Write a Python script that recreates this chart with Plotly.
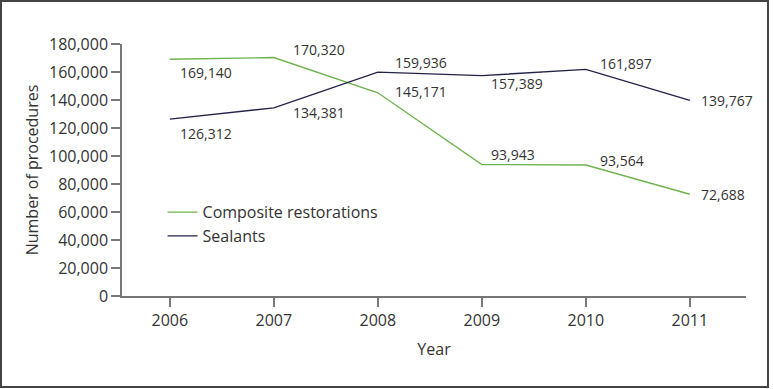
import plotly.graph_objects as go

years = [2006, 2007, 2008, 2009, 2010, 2011]
composite = [169140, 170320, 145171, 93943, 93564, 72688]
sealants = [126312, 134381, 159936, 157389, 161897, 139767]
y_ticks = [0, 20000, 40000, 60000, 80000, 100000, 120000, 140000, 160000, 180000]

GREEN = "#6fb34f"
NAVY = "#232249"
FONT = "Open Sans"

fig = go.Figure()
fig.add_trace(go.Scatter(x=years, y=composite, mode="lines", name="Composite restorations",
                         line=dict(color=GREEN, width=1.4)))
fig.add_trace(go.Scatter(x=years, y=sealants, mode="lines", name="Sealants",
                         line=dict(color=NAVY, width=1.4)))

# label offsets (xshift, yshift) in pixels
comp_off = [(8, -13), (17, 8), (15, 1), (7, 10), (12, 5), (9, 0)]
seal_off = [(8, -14), (17, -5), (15, 10), (7, -8), (12, 6), (9, 0)]

ann = []
for x, y, (dx, dy) in zip(years, composite, comp_off):
    ann.append(dict(x=x, y=y, xref="x", yref="y", text=f"{y:,}", showarrow=False,
                    xanchor="left", yanchor="middle", xshift=dx, yshift=dy,
                    font=dict(family=FONT, size=14, color="#333333")))
for x, y, (dx, dy) in zip(years, sealants, seal_off):
    ann.append(dict(x=x, y=y, xref="x", yref="y", text=f"{y:,}", showarrow=False,
                    xanchor="left", yanchor="middle", xshift=dx, yshift=dy,
                    font=dict(family=FONT, size=14, color="#333333")))

fig.update_layout(
    width=773, height=389,
    margin=dict(l=122, r=27, t=44, b=93),
    paper_bgcolor="white", plot_bgcolor="white",
    font=dict(family=FONT, color="#333333"),
    annotations=ann,
    showlegend=True,
    legend=dict(x=0.065, y=0.4, xanchor="left", yanchor="top",
                bgcolor="rgba(0,0,0,0)", font=dict(family=FONT, size=16, color="#333333"),
                tracegroupgap=0, itemwidth=30),
    shapes=[dict(type="rect", xref="paper", yref="paper",
                 x0=(1 - 122) / 624, x1=(768 - 122) / 624,
                 y0=(296 - 387) / 252, y1=(296 - 1) / 252,
                 line=dict(color="#444444", width=2), fillcolor="rgba(0,0,0,0)", layer="below")],
)
fig.update_xaxes(range=[2005.54, 2011.54], tickvals=years, ticktext=[str(y) for y in years],
                 showline=True, linecolor="#777777", linewidth=1.5, ticks="outside",
                 ticklen=9, tickcolor="#777777", tickwidth=1.5, showgrid=False, zeroline=False,
                 tickfont=dict(family=FONT, size=16, color="#333333"),
                 title=dict(text="Year", font=dict(family=FONT, size=16, color="#333333"), standoff=14))
fig.update_yaxes(range=[0, 180000], tickvals=y_ticks, ticktext=[f"{v:,}" for v in y_ticks],
                 showline=True, linecolor="#777777", linewidth=1.5, ticks="outside",
                 ticklen=9, tickcolor="#777777", tickwidth=1.5, showgrid=False, zeroline=False,
                 tickfont=dict(family=FONT, size=16, color="#333333"),
                 title=dict(text="Number of procedures", font=dict(family=FONT, size=16, color="#333333"), standoff=6))

fig.write_html("out.html", config={"displayModeBar": False},
               post_script="document.body.style.margin='0';")
